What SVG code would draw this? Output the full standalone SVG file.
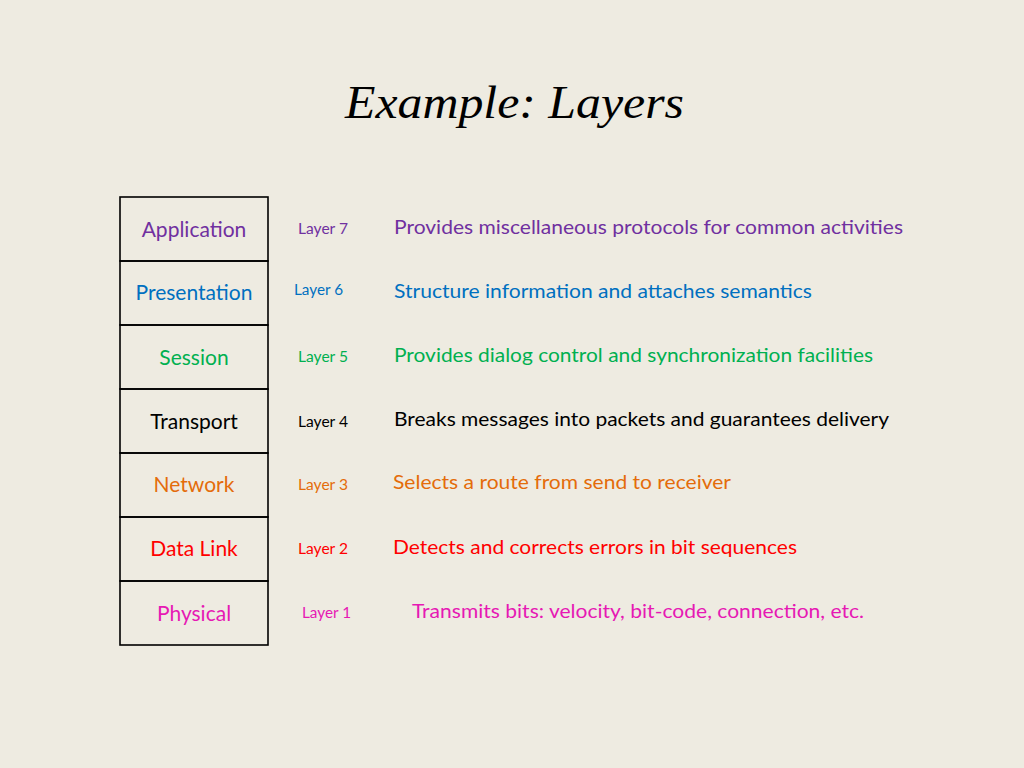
<svg xmlns="http://www.w3.org/2000/svg" width="1024" height="768" viewBox="0 0 1024 768">
<style>
.bg{fill:#EEEBE1}
.box{fill:none;stroke:#000;stroke-width:1.6}
.t{font-family:Lato,"Open Sans","Liberation Sans",sans-serif}
.name{font-size:21px;text-anchor:middle}
.lay{font-size:14.5px}
.desc{font-size:20px}
.title{font-family:"Liberation Serif","DejaVu Serif",serif;font-style:italic;font-size:46px;fill:#000}
.c7{fill:#7030A0}.c6{fill:#0070C0}.c5{fill:#00B050}.c4{fill:#000}.c3{fill:#E46C0A}.c2{fill:#FF0000}.c1{fill:#E619B4}
</style>
<rect class="bg" x="0" y="0" width="1024" height="768"/>
<text class="title" x="345" y="118" textLength="339" lengthAdjust="spacingAndGlyphs">Example: Layers</text>
<g id="connectors"></g>
<g id="application">
<rect class="box" x="120" y="197" width="148" height="64"/>
<text class="t name c7" x="194" y="237">Application</text>
<text class="t lay c7" x="298" y="234" textLength="50" lengthAdjust="spacingAndGlyphs">Layer 7</text>
<text class="t desc c7" x="394" y="234" textLength="509" lengthAdjust="spacingAndGlyphs">Provides miscellaneous protocols for common activities</text>
</g>
<g id="presentation">
<rect class="box" x="120" y="261" width="148" height="64"/>
<text class="t name c6" x="194" y="300">Presentation</text>
<text class="t lay c6" x="294" y="295" textLength="49" lengthAdjust="spacingAndGlyphs">Layer 6</text>
<text class="t desc c6" x="394" y="298" textLength="418" lengthAdjust="spacingAndGlyphs">Structure information and attaches semantics</text>
</g>
<g id="session">
<rect class="box" x="120" y="325" width="148" height="64"/>
<text class="t name c5" x="194" y="365">Session</text>
<text class="t lay c5" x="298" y="362" textLength="50" lengthAdjust="spacingAndGlyphs">Layer 5</text>
<text class="t desc c5" x="394" y="362" textLength="479" lengthAdjust="spacingAndGlyphs">Provides dialog control and synchronization facilities</text>
</g>
<g id="transport">
<rect class="box" x="120" y="389" width="148" height="64"/>
<text class="t name c4" x="194" y="429">Transport</text>
<text class="t lay c4" x="298" y="427" textLength="50" lengthAdjust="spacingAndGlyphs">Layer 4</text>
<text class="t desc c4" x="394" y="426" textLength="495" lengthAdjust="spacingAndGlyphs">Breaks messages into packets and guarantees delivery</text>
</g>
<g id="network">
<rect class="box" x="120" y="453" width="148" height="64"/>
<text class="t name c3" x="194" y="492">Network</text>
<text class="t lay c3" x="298" y="490" textLength="50" lengthAdjust="spacingAndGlyphs">Layer 3</text>
<text class="t desc c3" x="393" y="489" textLength="338" lengthAdjust="spacingAndGlyphs">Selects a route from send to receiver</text>
</g>
<g id="datalink">
<rect class="box" x="120" y="517" width="148" height="64"/>
<text class="t name c2" x="194" y="556">Data Link</text>
<text class="t lay c2" x="298" y="554" textLength="50" lengthAdjust="spacingAndGlyphs">Layer 2</text>
<text class="t desc c2" x="393" y="554" textLength="404" lengthAdjust="spacingAndGlyphs">Detects and corrects errors in bit sequences</text>
</g>
<g id="physical">
<rect class="box" x="120" y="581" width="148" height="64"/>
<text class="t name c1" x="194" y="621">Physical</text>
<text class="t lay c1" x="302" y="618" textLength="49" lengthAdjust="spacingAndGlyphs">Layer 1</text>
<text class="t desc c1" x="412" y="618" textLength="452" lengthAdjust="spacingAndGlyphs">Transmits bits: velocity, bit-code, connection, etc.</text>
</g>
</svg>
